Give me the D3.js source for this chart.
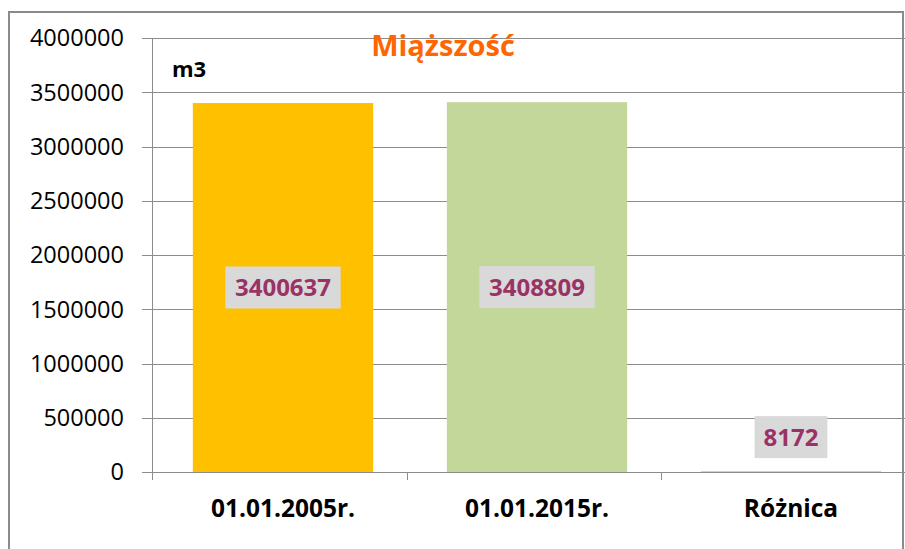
<!DOCTYPE html>
<meta charset="utf-8">
<head>
<style>
  body { margin: 0; background: #fff; }
  svg { display: block; font-family: "Open Sans", sans-serif; }
  .grid line { stroke: #8c8c8c; stroke-width: 1; shape-rendering: crispEdges; }
</style>
</head>
<body>
<script src="https://d3js.org/d3.v7.min.js"></script>
<script>

// chart data
var categories = ["01.01.2005r.", "01.01.2015r.", "Różnica"];
var values = [3400637, 3408809, 8172];
var barColors = ["#ffc000", "#c4d79b", "#c4d79b"];
var yTicks = [0, 500000, 1000000, 1500000, 2000000, 2500000, 3000000, 3500000, 4000000];

var W = 905, H = 549;

var svg = d3.select("body").append("svg")
    .attr("width", W)
    .attr("height", H);

// outer chart border (cropped on right / bottom)
svg.append("rect")
    .attr("x", 9).attr("y", 12)
    .attr("width", 894).attr("height", 560)
    .attr("fill", "#fff")
    .attr("stroke", "#8a8a8a")
    .attr("stroke-width", 2);

var x = d3.scaleBand()
    .domain(categories)
    .range([156, 918])
    .paddingInner(0.29)
    .paddingOuter(0.145);

var y = d3.scaleLinear()
    .domain([0, 4000000])
    .range([472, 38]);

// horizontal gridlines
svg.append("g")
    .attr("class", "grid")
    .selectAll("line")
    .data(yTicks)
    .enter().append("line")
      .attr("x1", 142).attr("x2", W)
      .attr("y1", function(d) { return Math.round(y(d)) + 0.5; })
      .attr("y2", function(d) { return Math.round(y(d)) + 0.5; });

// y tick labels
svg.append("g")
    .selectAll("text")
    .data(yTicks)
    .enter().append("text")
      .attr("x", 124)
      .attr("y", function(d) { return y(d); })
      .attr("dy", "0.36em")
      .attr("text-anchor", "end")
      .attr("font-size", "23.5px")
      .attr("fill", "#000")
      .text(function(d) { return d; });

// y axis line
svg.append("line")
    .attr("x1", 152.5).attr("x2", 152.5)
    .attr("y1", y(4000000)).attr("y2", 480)
    .attr("stroke", "#8c8c8c");

// category ticks
var bounds = [152, 407, 661];
svg.append("g").selectAll("line")
    .data(bounds)
    .enter().append("line")
      .attr("x1", function(d) { return d + 0.5; })
      .attr("x2", function(d) { return d + 0.5; })
      .attr("y1", 472).attr("y2", 480)
      .attr("stroke", "#8c8c8c");

// bars
svg.append("g").selectAll("rect")
    .data(values)
    .enter().append("rect")
      .attr("x", function(d, i) { return x(categories[i]); })
      .attr("width", x.bandwidth())
      .attr("y", function(d) { return y(d); })
      .attr("height", function(d) { return y(0) - y(d); })
      .attr("fill", function(d, i) { return barColors[i]; });

// value labels with grey boxes
var lab = svg.append("g").selectAll("g")
    .data(values)
    .enter().append("g")
      .attr("transform", function(d, i) {
        var cx = x(categories[i]) + x.bandwidth() / 2;
        var h = y(0) - y(d);
        var cy = h > 80 ? (y(d) + y(0)) / 2 : y(d) - 34;
        return "translate(" + cx + "," + cy + ")";
      });

lab.append("rect")
    .attr("x", function(d) { return -(String(d).length * 14.2 + 16) / 2; })
    .attr("width", function(d) { return String(d).length * 14.2 + 16; })
    .attr("y", -21).attr("height", 42)
    .attr("fill", "#d9d9d9");

lab.append("text")
    .attr("text-anchor", "middle")
    .attr("dy", "0.36em")
    .attr("font-size", "24px")
    .attr("font-weight", "bold")
    .attr("fill", "#993366")
    .text(function(d) { return d; });

// category labels
svg.append("g").selectAll("text")
    .data(categories)
    .enter().append("text")
      .attr("x", function(d) { return x(d) + x.bandwidth() / 2; })
      .attr("y", 517)
      .attr("text-anchor", "middle")
      .attr("font-size", "24.5px")
      .attr("font-weight", "bold")
      .text(function(d) { return d; });

// title and unit
svg.append("text")
    .attr("x", 443).attr("y", 56)
    .attr("text-anchor", "middle")
    .attr("font-size", "29px")
    .attr("font-weight", "bold")
    .attr("fill", "#ff6600")
    .text("Miąższość");

svg.append("text")
    .attr("x", 172).attr("y", 77)
    .attr("font-size", "22px")
    .attr("font-weight", "bold")
    .text("m3");

</script>
</body>
